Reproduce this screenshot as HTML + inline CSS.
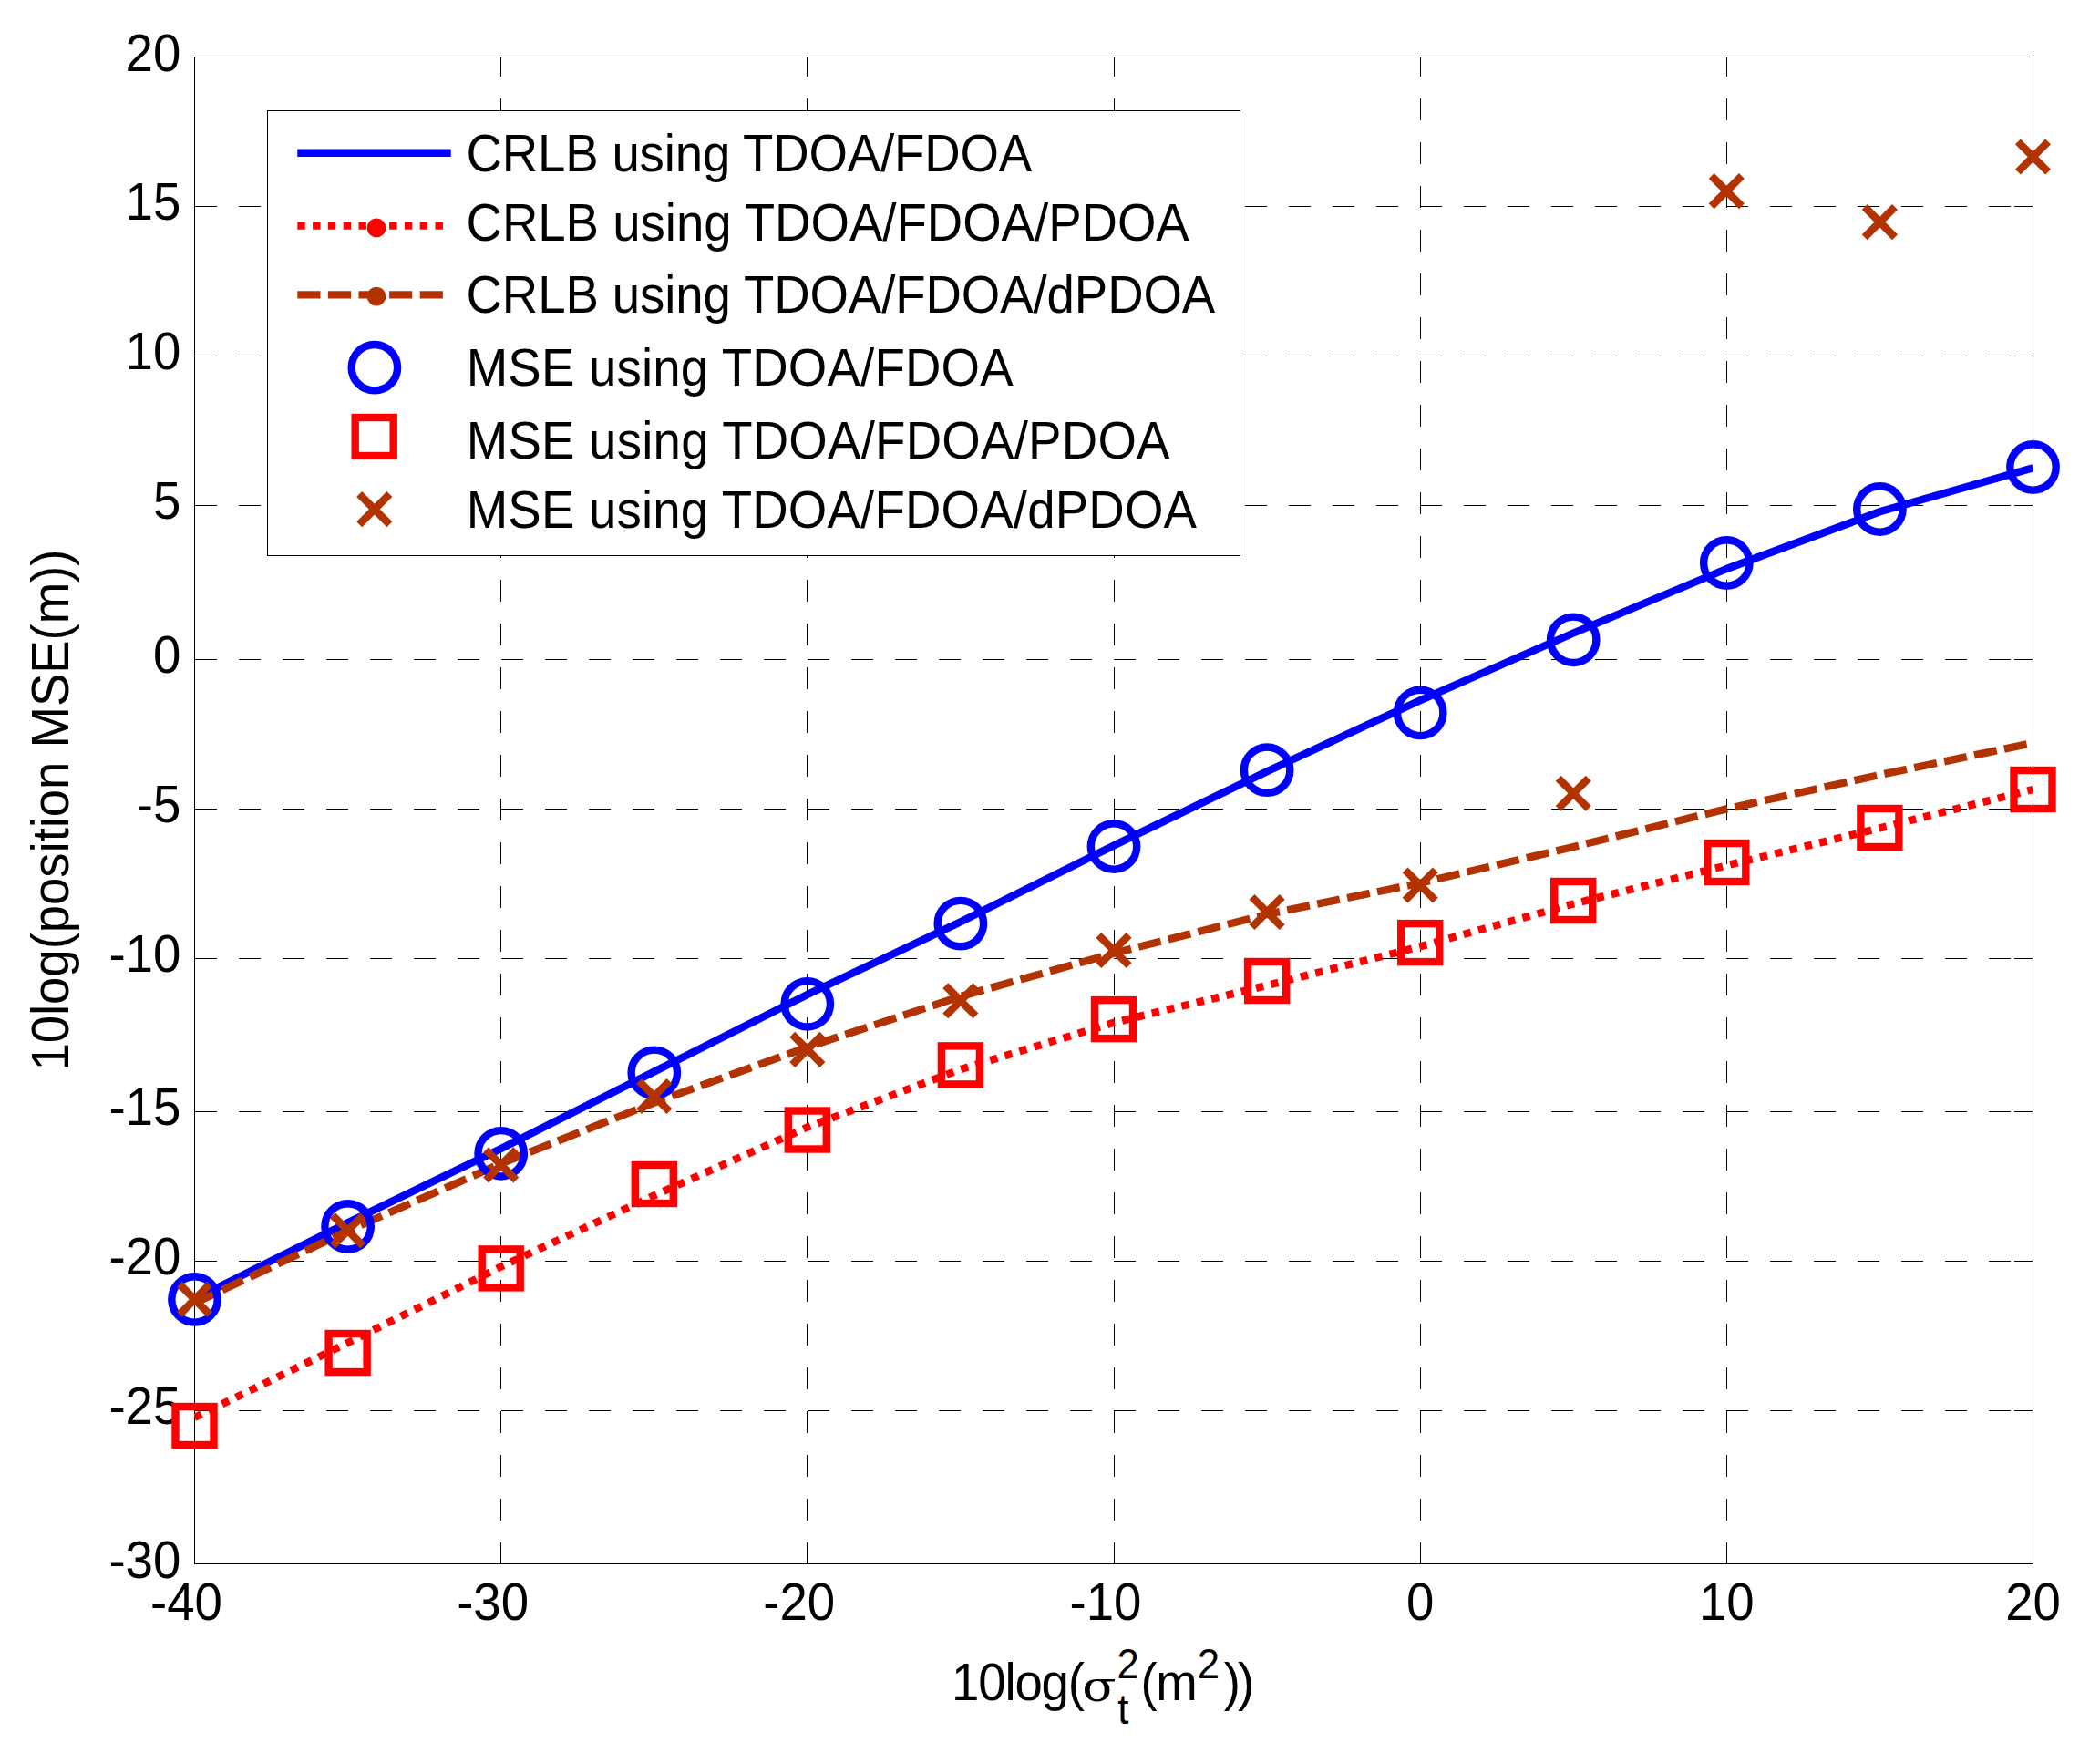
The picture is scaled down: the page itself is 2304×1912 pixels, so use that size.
<!DOCTYPE html>
<html lang="en"><head><meta charset="utf-8"><title>Position MSE versus noise power</title>
<style>html,body{margin:0;padding:0;background:#fff}body{width:2304px;height:1912px;overflow:hidden}svg{display:block}text{font-family:"Liberation Sans", Arial, Helvetica, sans-serif;font-size:54.6px;fill:#000}</style></head><body>
<svg width="2304" height="1912" viewBox="0 0 2304 1912">
<rect width="2304" height="1912" fill="#fff"/>
<defs><clipPath id="ax"><rect x="213.0" y="62.0" width="2018.0" height="1654.0"/></clipPath></defs>
<g stroke="#000" stroke-width="1" fill="none" shape-rendering="crispEdges">
<line x1="213.5" y1="226.3" x2="2230.5" y2="226.3" stroke-dasharray="24 24"/>
<line x1="213.5" y1="390.1" x2="2230.5" y2="390.1" stroke-dasharray="24 24"/>
<line x1="213.5" y1="554.3" x2="2230.5" y2="554.3" stroke-dasharray="24 24"/>
<line x1="213.5" y1="723.0" x2="2230.5" y2="723.0" stroke-dasharray="24 24"/>
<line x1="213.5" y1="887.0" x2="2230.5" y2="887.0" stroke-dasharray="24 24"/>
<line x1="213.5" y1="1051.2" x2="2230.5" y2="1051.2" stroke-dasharray="24 24"/>
<line x1="213.5" y1="1219.3" x2="2230.5" y2="1219.3" stroke-dasharray="24 24"/>
<line x1="213.5" y1="1383.2" x2="2230.5" y2="1383.2" stroke-dasharray="24 24"/>
<line x1="213.5" y1="1547.3" x2="2230.5" y2="1547.3" stroke-dasharray="24 24"/>
<line x1="549.7" y1="1715.5" x2="549.7" y2="62.5" stroke-dasharray="24 24"/>
<line x1="885.8" y1="1715.5" x2="885.8" y2="62.5" stroke-dasharray="24 24"/>
<line x1="1222.0" y1="1715.5" x2="1222.0" y2="62.5" stroke-dasharray="24 24"/>
<line x1="1558.2" y1="1715.5" x2="1558.2" y2="62.5" stroke-dasharray="24 24"/>
<line x1="1894.3" y1="1715.5" x2="1894.3" y2="62.5" stroke-dasharray="24 24"/>
<line x1="2209.5" y1="226.3" x2="2230.5" y2="226.3"/>
<line x1="213.5" y1="226.3" x2="234.5" y2="226.3"/>
<line x1="2209.5" y1="390.1" x2="2230.5" y2="390.1"/>
<line x1="213.5" y1="390.1" x2="234.5" y2="390.1"/>
<line x1="2209.5" y1="554.3" x2="2230.5" y2="554.3"/>
<line x1="213.5" y1="554.3" x2="234.5" y2="554.3"/>
<line x1="2209.5" y1="723.0" x2="2230.5" y2="723.0"/>
<line x1="213.5" y1="723.0" x2="234.5" y2="723.0"/>
<line x1="2209.5" y1="887.0" x2="2230.5" y2="887.0"/>
<line x1="213.5" y1="887.0" x2="234.5" y2="887.0"/>
<line x1="2209.5" y1="1051.2" x2="2230.5" y2="1051.2"/>
<line x1="213.5" y1="1051.2" x2="234.5" y2="1051.2"/>
<line x1="2209.5" y1="1219.3" x2="2230.5" y2="1219.3"/>
<line x1="213.5" y1="1219.3" x2="234.5" y2="1219.3"/>
<line x1="2209.5" y1="1383.2" x2="2230.5" y2="1383.2"/>
<line x1="213.5" y1="1383.2" x2="234.5" y2="1383.2"/>
<line x1="2209.5" y1="1547.3" x2="2230.5" y2="1547.3"/>
<line x1="213.5" y1="1547.3" x2="234.5" y2="1547.3"/>
<line x1="549.7" y1="62.5" x2="549.7" y2="83.5"/>
<line x1="549.7" y1="1694.5" x2="549.7" y2="1715.5"/>
<line x1="885.8" y1="62.5" x2="885.8" y2="83.5"/>
<line x1="885.8" y1="1694.5" x2="885.8" y2="1715.5"/>
<line x1="1222.0" y1="62.5" x2="1222.0" y2="83.5"/>
<line x1="1222.0" y1="1694.5" x2="1222.0" y2="1715.5"/>
<line x1="1558.2" y1="62.5" x2="1558.2" y2="83.5"/>
<line x1="1558.2" y1="1694.5" x2="1558.2" y2="1715.5"/>
<line x1="1894.3" y1="62.5" x2="1894.3" y2="83.5"/>
<line x1="1894.3" y1="1694.5" x2="1894.3" y2="1715.5"/>
<rect x="213.5" y="62.5" width="2017.0" height="1653.0"/>
</g>
<g id="xticks" text-anchor="end">
<text transform="translate(243.9 1777.3) scale(1 1.04)" text-anchor="end">-40</text>
<text transform="translate(580.1 1777.3) scale(1 1.04)" text-anchor="end">-30</text>
<text transform="translate(916.2 1777.3) scale(1 1.04)" text-anchor="end">-20</text>
<text transform="translate(1252.4 1777.3) scale(1 1.04)" text-anchor="end">-10</text>
<text transform="translate(1573.4 1777.3) scale(1 1.04)" text-anchor="end">0</text>
<text transform="translate(1924.7 1777.3) scale(1 1.04)" text-anchor="end">10</text>
<text transform="translate(2260.9 1777.3) scale(1 1.04)" text-anchor="end">20</text>
</g>
<g id="yticks" text-anchor="end">
<text transform="translate(198.3 77.5) scale(1 1.04)" text-anchor="end">20</text>
<text transform="translate(198.3 241.3) scale(1 1.04)" text-anchor="end">15</text>
<text transform="translate(198.3 405.1) scale(1 1.04)" text-anchor="end">10</text>
<text transform="translate(198.3 569.3) scale(1 1.04)" text-anchor="end">5</text>
<text transform="translate(198.3 738.0) scale(1 1.04)" text-anchor="end">0</text>
<text transform="translate(198.3 902.0) scale(1 1.04)" text-anchor="end">-5</text>
<text transform="translate(198.3 1066.2) scale(1 1.04)" text-anchor="end">-10</text>
<text transform="translate(198.3 1234.3) scale(1 1.04)" text-anchor="end">-15</text>
<text transform="translate(198.3 1398.2) scale(1 1.04)" text-anchor="end">-20</text>
<text transform="translate(198.3 1562.3) scale(1 1.04)" text-anchor="end">-25</text>
<text transform="translate(198.3 1730.5) scale(1 1.04)" text-anchor="end">-30</text>
</g>
<text transform="translate(75.0 1174.6) rotate(-90) scale(1 1.04)" textLength="572.0" lengthAdjust="spacing">10log(position MSE(m))</text>
<g id="xlabel">
<text transform="translate(1044.0 1865.4) scale(1 1.04)" textLength="146.0" lengthAdjust="spacing">10log(</text>
<text transform="translate(1187.3 1866.2) scale(1.19 1)" style="font-size:46px;font-family:'DejaVu Serif', 'Liberation Serif', serif;">σ</text>
<text transform="translate(1225.4 1841.0) scale(1 1.04)" style="font-size:43.7px;">2</text>
<text transform="translate(1226.3 1891.2) scale(1 1.04)" style="font-size:43.7px;">t</text>
<text transform="translate(1251.6 1865.4) scale(1 1.04)" textLength="62.0" lengthAdjust="spacing">(m</text>
<text transform="translate(1313.8 1841.0) scale(1 1.04)" style="font-size:43.7px;">2</text>
<text transform="translate(1342.7 1865.4) scale(1 1.04)" textLength="33.5" lengthAdjust="spacing">))</text>
</g>
<g clip-path="url(#ax)" fill="none" stroke-width="8.4">
<polyline points="213.5,1425.0 381.6,1341.3 549.7,1260.0 717.8,1175.6 885.8,1091.0 1053.9,1011.3 1222.0,927.4 1390.1,846.3 1558.2,768.3 1726.2,694.5 1894.3,624.0 2062.4,561.3 2230.5,513.2" stroke="#0000ff" stroke-linejoin="round"/>
<polyline points="213.5,1555.0 381.6,1473.0 549.7,1389.5 717.8,1311.4 885.8,1236.5 1053.9,1173.0 1222.0,1121.8 1390.1,1081.0 1558.2,1038.3 1726.2,991.5 1894.3,949.4 2062.4,908.4 2230.5,866.0" stroke="#ff0000" stroke-dasharray="8.4 8.4"/>
<polyline points="213.5,1429.5 381.6,1350.2 549.7,1276.4 717.8,1209.5 885.8,1148.7 1053.9,1093.0 1222.0,1045.7 1390.1,1003.0 1558.2,968.6 1726.2,929.0 1894.3,887.3 2062.4,850.0 2230.5,815.0" stroke="#b23300" stroke-dasharray="25.2 8.4"/>
</g>
<g fill="none" stroke-width="8.4">
<circle cx="213.5" cy="1425.4" r="25.2" stroke="#0000ff"/>
<circle cx="381.6" cy="1345.4" r="25.2" stroke="#0000ff"/>
<circle cx="549.7" cy="1265.3" r="25.2" stroke="#0000ff"/>
<circle cx="717.8" cy="1176.8" r="25.2" stroke="#0000ff"/>
<circle cx="885.8" cy="1101.3" r="25.2" stroke="#0000ff"/>
<circle cx="1053.9" cy="1013.1" r="25.2" stroke="#0000ff"/>
<circle cx="1222.0" cy="928.5" r="25.2" stroke="#0000ff"/>
<circle cx="1390.1" cy="844.7" r="25.2" stroke="#0000ff"/>
<circle cx="1558.2" cy="781.9" r="25.2" stroke="#0000ff"/>
<circle cx="1726.2" cy="701.8" r="25.2" stroke="#0000ff"/>
<circle cx="1894.3" cy="617.5" r="25.2" stroke="#0000ff"/>
<circle cx="2062.4" cy="558.5" r="25.2" stroke="#0000ff"/>
<circle cx="2230.5" cy="512.5" r="25.2" stroke="#0000ff"/>
<rect x="192.5" y="1543.0" width="42" height="42" stroke="#ff0000"/>
<rect x="360.6" y="1463.0" width="42" height="42" stroke="#ff0000"/>
<rect x="528.7" y="1370.4" width="42" height="42" stroke="#ff0000"/>
<rect x="696.8" y="1278.0" width="42" height="42" stroke="#ff0000"/>
<rect x="864.8" y="1218.5" width="42" height="42" stroke="#ff0000"/>
<rect x="1032.9" y="1147.4" width="42" height="42" stroke="#ff0000"/>
<rect x="1201.0" y="1097.1" width="42" height="42" stroke="#ff0000"/>
<rect x="1369.1" y="1055.0" width="42" height="42" stroke="#ff0000"/>
<rect x="1537.2" y="1013.1" width="42" height="42" stroke="#ff0000"/>
<rect x="1705.2" y="967.0" width="42" height="42" stroke="#ff0000"/>
<rect x="1873.3" y="925.0" width="42" height="42" stroke="#ff0000"/>
<rect x="2041.4" y="887.0" width="42" height="42" stroke="#ff0000"/>
<rect x="2209.5" y="845.0" width="42" height="42" stroke="#ff0000"/>
<path d="M196.9 1408.8L230.1 1442.0M196.9 1442.0L230.1 1408.8" stroke="#b23300"/>
<path d="M365.0 1333.3L398.2 1366.5M365.0 1366.5L398.2 1333.3" stroke="#b23300"/>
<path d="M533.1 1261.3L566.3 1294.5M533.1 1294.5L566.3 1261.3" stroke="#b23300"/>
<path d="M701.1 1185.9L734.4 1219.1M701.1 1219.1L734.4 1185.9" stroke="#b23300"/>
<path d="M869.2 1134.8L902.4 1168.0M869.2 1168.0L902.4 1134.8" stroke="#b23300"/>
<path d="M1037.3 1081.2L1070.5 1114.4M1037.3 1114.4L1070.5 1081.2" stroke="#b23300"/>
<path d="M1205.4 1025.9L1238.6 1059.1M1205.4 1059.1L1238.6 1025.9" stroke="#b23300"/>
<path d="M1373.5 983.9L1406.7 1017.1M1373.5 1017.1L1406.7 983.9" stroke="#b23300"/>
<path d="M1541.6 954.4L1574.8 987.6M1541.6 987.6L1574.8 954.4" stroke="#b23300"/>
<path d="M1709.7 853.7L1742.8 886.9M1709.7 886.9L1742.8 853.7" stroke="#b23300"/>
<path d="M1877.7 193.0L1910.9 226.2M1877.7 226.2L1910.9 193.0" stroke="#b23300"/>
<path d="M2045.8 227.0L2079.0 260.2M2045.8 260.2L2079.0 227.0" stroke="#b23300"/>
<path d="M2213.9 155.4L2247.1 188.6M2213.9 188.6L2247.1 155.4" stroke="#b23300"/>
</g>
<g id="legend">
<rect x="293.5" y="121.5" width="1067" height="488" fill="#fff" stroke="#000" stroke-width="1" shape-rendering="crispEdges"/>
<g fill="none" stroke-width="8.4">
<line x1="326.3" y1="167.8" x2="494.7" y2="167.8" stroke="#0000ff"/>
<line x1="326.3" y1="247.6" x2="494" y2="247.6" stroke="#ff0000" stroke-dasharray="8.4 8.4"/>
<line x1="326.3" y1="323.4" x2="494" y2="323.4" stroke="#b23300" stroke-dasharray="25.2 8.4"/>
<circle cx="410.9" cy="403.2" r="25.2" stroke="#0000ff"/>
<rect x="389.7" y="458.0" width="42" height="42" stroke="#ff0000"/>
<path d="M394.2 542.0L427.4 575.2M394.2 575.2L427.4 542.0" stroke="#b23300"/>
</g>
<circle cx="413" cy="249.9" r="10.4" fill="#ff0000"/>
<circle cx="413" cy="325.2" r="10.4" fill="#b23300"/>
<text transform="translate(511.5 188.0) scale(1 1.04)" textLength="620.7" lengthAdjust="spacing">CRLB using TDOA/FDOA</text>
<text transform="translate(511.5 264.2) scale(1 1.04)" textLength="793.3" lengthAdjust="spacing">CRLB using TDOA/FDOA/PDOA</text>
<text transform="translate(511.5 343.2) scale(1 1.04)" textLength="821.8" lengthAdjust="spacing">CRLB using TDOA/FDOA/dPDOA</text>
<text transform="translate(511.7 423.2) scale(1 1.04)" textLength="599.9" lengthAdjust="spacing">MSE using TDOA/FDOA</text>
<text transform="translate(511.7 503.2) scale(1 1.04)" textLength="771.8" lengthAdjust="spacing">MSE using TDOA/FDOA/PDOA</text>
<text transform="translate(511.7 578.7) scale(1 1.04)" textLength="801.3" lengthAdjust="spacing">MSE using TDOA/FDOA/dPDOA</text>
</g>
</svg></body></html>
